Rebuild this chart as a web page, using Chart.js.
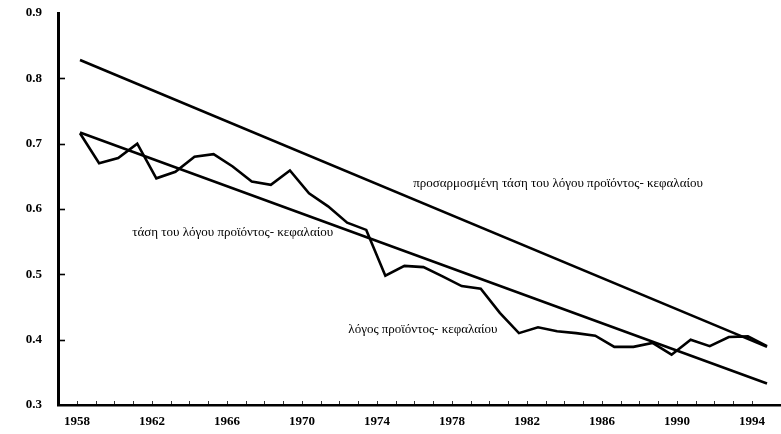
<!DOCTYPE html>
<html>
<head>
<meta charset="utf-8">
<script src="https://cdn.jsdelivr.net/npm/chart.js@4/dist/chart.umd.min.js"></script>
<style>
  html, body { margin: 0; padding: 0; background: #fff; }
  canvas { display: block; }
</style>
</head>
<body>
<canvas id="chart" width="781" height="434"></canvas>
<script>
// Output–capital ratio, 1958–1994, with its trend and adjusted trend
const years = [1958, 1959, 1960, 1961, 1962, 1963, 1964, 1965, 1966, 1967, 1968, 1969,
               1970, 1971, 1972, 1973, 1974, 1975, 1976, 1977, 1978, 1979, 1980, 1981,
               1982, 1983, 1984, 1985, 1986, 1987, 1988, 1989, 1990, 1991, 1992, 1993, 1994];
const ratio = [0.716, 0.670, 0.678, 0.700, 0.647, 0.657, 0.680, 0.684, 0.665, 0.642, 0.637, 0.659,
               0.624, 0.604, 0.579, 0.568, 0.498, 0.513, 0.511, 0.497, 0.482, 0.478, 0.441, 0.410,
               0.419, 0.413, 0.410, 0.406, 0.389, 0.389, 0.395, 0.377, 0.400, 0.390, 0.404, 0.405, 0.390];

const trendYears = [1958, 1994];
const trend = [0.717, 0.333];
const adjustedTrend = [0.828, 0.389];

const yTicks = [0.3, 0.4, 0.5, 0.6, 0.7, 0.8, 0.9];
const xTicks = [1958, 1962, 1966, 1970, 1974, 1978, 1982, 1986, 1990, 1994];

// in-plot captions, anchored in data coordinates
const noteTexts = [
  'προσαρμοσμένη τάση του λόγου προϊόντος- κεφαλαίου',
  'τάση του λόγου προϊόντος- κεφαλαίου',
  'λόγος προϊόντος- κεφαλαίου'
];
const noteYears = [1983.05, 1966.0, 1975.97];
const noteValues = [0.6387, 0.5638, 0.4154];

const toPoints = (xs, ys) => xs.map((x, i) => ({ x: x, y: ys[i] }));

const lineStyle = {
  borderColor: '#000',
  borderWidth: 2.6,
  pointRadius: 0,
  pointHoverRadius: 0,
  tension: 0,
  fill: false,
  borderJoinStyle: 'miter'
};

const tickFont = { family: '"Liberation Serif", "DejaVu Serif", serif', size: 13, weight: 'bold' };

const decor = {
  id: 'decor',
  afterDatasetsDraw(chart) {
    const ctx = chart.ctx;
    const xs = chart.scales.x, xl = chart.scales.xl, ys = chart.scales.y;
    const area = chart.chartArea;
    ctx.save();
    ctx.strokeStyle = '#000';
    // short inward ticks on the value axis
    ctx.lineWidth = 1.6;
    yTicks.slice(1, -1).forEach(v => {
      const py = Math.round(ys.getPixelForValue(v)) + 0.5;
      ctx.beginPath();
      ctx.moveTo(area.left, py);
      ctx.lineTo(area.left + 7, py);
      ctx.stroke();
    });
    // faint yearly marks above the time axis
    ctx.lineWidth = 1;
    ctx.strokeStyle = '#333';
    for (let yr = 1958; yr <= 1994; yr++) {
      const px = Math.round(xl.getPixelForValue(yr)) + 0.5;
      ctx.beginPath();
      ctx.moveTo(px, area.bottom - 1);
      ctx.lineTo(px, area.bottom - 4);
      ctx.stroke();
    }
    // captions
    ctx.fillStyle = '#000';
    ctx.font = '13px "Liberation Serif", "DejaVu Serif", serif';
    ctx.textAlign = 'center';
    ctx.textBaseline = 'middle';
    noteTexts.forEach((t, i) => {
      ctx.fillText(t, xs.getPixelForValue(noteYears[i]), ys.getPixelForValue(noteValues[i]));
    });
    ctx.restore();
  }
};

new Chart(document.getElementById('chart'), {
  type: 'line',
  data: {
    datasets: [
      Object.assign({ label: 'λόγος προϊόντος- κεφαλαίου', data: toPoints(years, ratio) }, lineStyle),
      Object.assign({ label: 'τάση του λόγου προϊόντος- κεφαλαίου', data: toPoints(trendYears, trend) }, lineStyle),
      Object.assign({ label: 'προσαρμοσμένη τάση του λόγου προϊόντος- κεφαλαίου', data: toPoints(trendYears, adjustedTrend) }, lineStyle)
    ]
  },
  options: {
    responsive: false,
    animation: false,
    devicePixelRatio: 1,
    layout: { padding: { top: 13, right: 0, left: 0, bottom: 0 } },
    plugins: { legend: { display: false }, tooltip: { enabled: false } },
    scales: {
      x: {
        type: 'linear',
        display: false,
        min: 1956.847,
        max: 1994.734
      },
      xl: {
        type: 'linear',
        position: 'bottom',
        min: 1956.987,
        max: 1995.547,
        afterBuildTicks: s => { s.ticks = xTicks.map(v => ({ value: v })); },
        afterFit: s => { s.height = 29; },
        grid: { display: false, drawTicks: false },
        border: { display: true, width: 2.6, color: '#000' },
        ticks: {
          color: '#000',
          font: tickFont,
          padding: 9,
          maxRotation: 0,
          autoSkip: false,
          callback: v => String(v)
        }
      },
      y: {
        type: 'linear',
        position: 'left',
        min: 0.3,
        max: 0.9,
        afterBuildTicks: s => { s.ticks = yTicks.map(v => ({ value: v })); },
        afterFit: s => { s.width = 58; s.paddingTop = 6; s.paddingBottom = 6; },
        grid: { display: false, drawTicks: false },
        border: { display: true, width: 3, color: '#000' },
        ticks: {
          color: '#000',
          font: tickFont,
          padding: 16,
          callback: v => v.toFixed(1)
        }
      }
    }
  },
  plugins: [decor]
});
</script>
</body>
</html>
